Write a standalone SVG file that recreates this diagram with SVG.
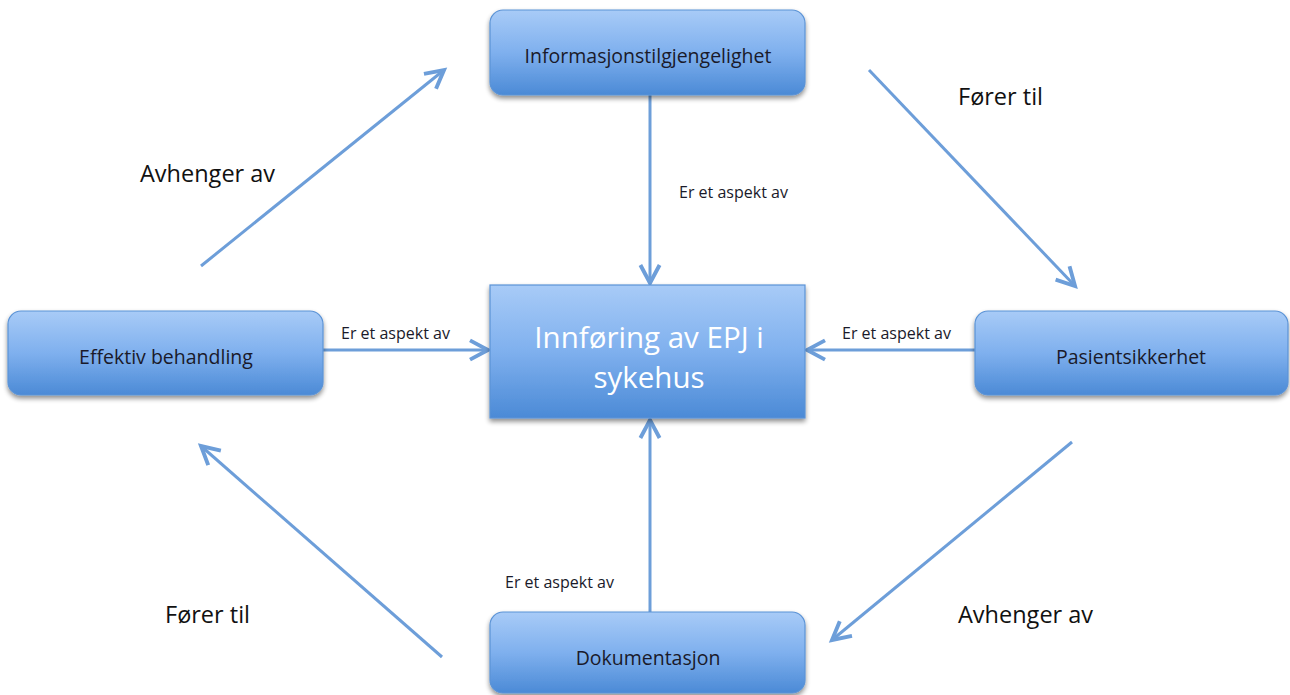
<svg xmlns="http://www.w3.org/2000/svg" width="1290" height="695" viewBox="0 0 1290 695">
<defs>
<linearGradient id="g" x1="0" y1="0" x2="0" y2="1">
<stop offset="0" stop-color="#a8cbf7"/>
<stop offset="0.5" stop-color="#7fb0ee"/>
<stop offset="1" stop-color="#4b8ad6"/>
</linearGradient>
<filter id="sh" x="-10%" y="-10%" width="120%" height="140%">
<feGaussianBlur in="SourceAlpha" stdDeviation="2.5"/>
<feOffset dy="3" result="b"/>
<feComponentTransfer><feFuncA type="linear" slope="0.45"/></feComponentTransfer>
<feMerge><feMergeNode/><feMergeNode in="SourceGraphic"/></feMerge>
</filter>
<marker id="ah" markerWidth="8" markerHeight="8" refX="6.5" refY="4" orient="auto" markerUnits="strokeWidth">
<path d="M0.5,0.8 L6.5,4 L0.5,7.2" fill="none" stroke="#6d9ed9" stroke-width="1.3" stroke-linejoin="miter"/>
</marker>
</defs>
<style>
.box{fill:url(#g);stroke:#5b93d6;stroke-width:1.2;filter:url(#sh)}
.lbl{font-family:"Open Sans","Liberation Sans",sans-serif;font-size:19.5px;fill:#1a1a2a;text-anchor:middle}
.big{font-family:"Open Sans","Liberation Sans",sans-serif;font-size:29.5px;fill:#ffffff;text-anchor:middle}
.conn{stroke:#6d9ed9;stroke-width:3;fill:none;marker-end:url(#ah)}
.small{font-family:"Open Sans","Liberation Sans",sans-serif;font-size:16px;fill:#1a1a2a}
.mid{font-family:"Open Sans","Liberation Sans",sans-serif;font-size:23.5px;fill:#111}
</style>
<rect width="1290" height="695" fill="#ffffff"/>
<g id="connectors">
<line class="conn" x1="650" y1="95" x2="650" y2="283"/>
<line class="conn" x1="323" y1="350" x2="488" y2="350"/>
<line class="conn" x1="975" y1="350" x2="807" y2="350"/>
<line class="conn" x1="650" y1="612" x2="650" y2="420"/>
<line class="conn" x1="201" y1="266" x2="444" y2="70"/>
<line class="conn" x1="869" y1="70" x2="1075" y2="286"/>
<line class="conn" x1="1072" y1="442" x2="832" y2="640"/>
<line class="conn" x1="442" y1="657" x2="201" y2="446"/>
<text class="small" x="679" y="198">Er et aspekt av</text>
<text class="small" x="341" y="339">Er et aspekt av</text>
<text class="small" x="842" y="339">Er et aspekt av</text>
<text class="small" x="505" y="588">Er et aspekt av</text>
<text class="mid" x="140" y="182">Avhenger av</text>
<text class="mid" x="958" y="105">Fører til</text>
<text class="mid" x="165" y="623">Fører til</text>
<text class="mid" x="958" y="623">Avhenger av</text>
</g>
<g id="n-info">
<rect class="box" x="490" y="10" width="315" height="85" rx="13"/>
<text class="lbl" x="648" y="63">Informasjonstilgjengelighet</text>
</g>
<g id="n-center">
<rect class="box" x="490" y="285" width="315" height="133"/>
<text class="big" x="649" y="348">Innføring av EPJ i</text>
<text class="big" x="649" y="388">sykehus</text>
</g>
<g id="n-effektiv">
<rect class="box" x="8" y="311" width="315" height="84" rx="13"/>
<text class="lbl" x="166" y="364">Effektiv behandling</text>
</g>
<g id="n-pasient">
<rect class="box" x="975" y="311" width="313" height="84" rx="13"/>
<text class="lbl" x="1131" y="364">Pasientsikkerhet</text>
</g>
<g id="n-dok">
<rect class="box" x="490" y="612" width="315" height="81" rx="13"/>
<text class="lbl" x="648" y="665">Dokumentasjon</text>
</g>
</svg>
